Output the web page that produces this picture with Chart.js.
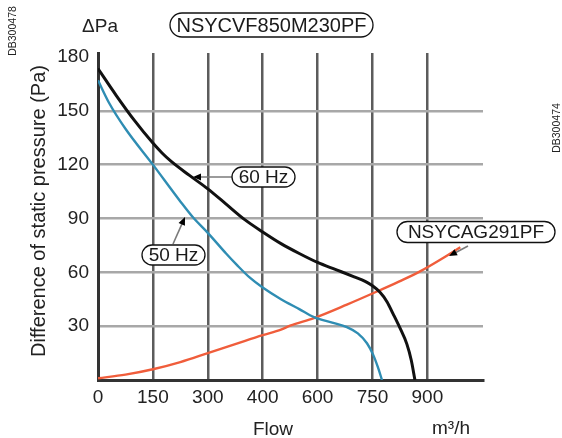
<!DOCTYPE html>
<html>
<head>
<meta charset="utf-8">
<script src="https://cdn.jsdelivr.net/npm/chart.js@4.4.0/dist/chart.umd.min.js"></script>
<style>
  html, body { margin: 0; padding: 0; background: #fff; }
</style>
</head>
<body>
<canvas id="chart" width="562" height="438"></canvas>
<script>
// fan curves, flow in m3/h, pressure in Pa
const flow60 = [0, 50, 100, 150, 175, 200, 250, 300, 350, 400, 450, 500, 550, 600, 650, 700, 730, 750, 770, 790, 806, 825, 844, 856, 866];
const pa60   = [173.5, 158.5, 144.5, 132, 126.5, 121.8, 114, 106.5, 98, 89.5, 82.5, 76, 70.5, 65.5, 61.5, 57.5, 55, 52.5, 49, 43.5, 37, 29, 20, 11, 0];

const flow50 = [0, 30, 75, 150, 225, 260, 300, 350, 380, 415, 450, 500, 550, 590, 640, 680, 710, 735, 752, 765, 776];
const pa50   = [167, 154.5, 140, 120, 99.5, 90.5, 82, 70.5, 64, 57, 51.5, 45, 39.5, 35, 32, 29.5, 26, 20.5, 14, 7, 0];

// NSYCAG291PF filter resistance curve
const flowCag = [0, 75, 150, 225, 300, 375, 450, 500, 525, 590, 680, 770, 830, 880, 935, 990];
const paCag   = [1, 3, 6, 10, 15, 20, 25, 28, 30.3, 34.5, 42, 50, 55.5, 60.5, 67, 74];

const xTickValues = [0, 150, 300, 450, 600, 750, 900];
const xTickLabels = ['0', '150', '300', '400', '600', '750', '900'];
const yTickValues = [30, 60, 90, 120, 150, 180];

const FONT = '"Liberation Sans", Arial, sans-serif';

const toPoints = (xs, ys) => xs.map((x, i) => ({ x: x, y: ys[i] }));

function pill(ctx, text, cx, cy, w, h, size) {
  const r = h / 2;
  ctx.save();
  ctx.beginPath();
  ctx.moveTo(cx - w / 2 + r, cy - r);
  ctx.lineTo(cx + w / 2 - r, cy - r);
  ctx.arc(cx + w / 2 - r, cy, r, -Math.PI / 2, Math.PI / 2);
  ctx.lineTo(cx - w / 2 + r, cy + r);
  ctx.arc(cx - w / 2 + r, cy, r, Math.PI / 2, Math.PI * 1.5);
  ctx.closePath();
  ctx.fillStyle = '#fff';
  ctx.fill();
  ctx.lineWidth = 1.3;
  ctx.strokeStyle = '#111';
  ctx.stroke();
  ctx.fillStyle = '#1a1a1a';
  ctx.font = size + 'px ' + FONT;
  ctx.textAlign = 'center';
  ctx.textBaseline = 'middle';
  ctx.fillText(text, cx, cy + 1);
  ctx.restore();
}

function arrow(ctx, x1, y1, x2, y2) {
  const a = Math.atan2(y2 - y1, x2 - x1);
  ctx.save();
  ctx.strokeStyle = '#7a7a7a';
  ctx.lineWidth = 1.6;
  ctx.beginPath();
  ctx.moveTo(x1, y1);
  ctx.lineTo(x2 - 5 * Math.cos(a), y2 - 5 * Math.sin(a));
  ctx.stroke();
  ctx.fillStyle = '#000';
  ctx.beginPath();
  ctx.moveTo(x2, y2);
  ctx.lineTo(x2 - 8 * Math.cos(a) + 3.5 * Math.sin(a), y2 - 8 * Math.sin(a) - 3.5 * Math.cos(a));
  ctx.lineTo(x2 - 8 * Math.cos(a) - 3.5 * Math.sin(a), y2 - 8 * Math.sin(a) + 3.5 * Math.cos(a));
  ctx.closePath();
  ctx.fill();
  ctx.restore();
}

const labelsPlugin = {
  id: 'labels',
  afterDraw(chart) {
    const ctx = chart.ctx;
    ctx.save();
    ctx.fillStyle = '#222';
    ctx.textAlign = 'center';
    ctx.textBaseline = 'middle';

    ctx.font = '19px ' + FONT;
    ctx.fillText('\u0394Pa', 100, 27);
    ctx.fillText('Flow', 273, 430);
    ctx.fillText('m\u00B3/h', 451, 429);

    ctx.save();
    ctx.translate(39, 211);
    ctx.rotate(-Math.PI / 2);
    ctx.font = '20px ' + FONT;
    ctx.fillText('Difference of static pressure (Pa)', 0, 0);
    ctx.restore();

    ctx.font = '10.5px ' + FONT;
    ctx.save();
    ctx.translate(13, 31);
    ctx.rotate(-Math.PI / 2);
    ctx.fillText('DB300478', 0, 0);
    ctx.restore();
    ctx.save();
    ctx.translate(557, 128);
    ctx.rotate(-Math.PI / 2);
    ctx.fillText('DB300474', 0, 0);
    ctx.restore();
    ctx.restore();

    arrow(ctx, 233, 177, 193, 177);
    arrow(ctx, 173, 244, 185, 217);
    arrow(ctx, 468, 246, 449, 256);

    pill(ctx, 'NSYCVF850M230PF', 271.5, 25, 203, 24, 20);
    pill(ctx, '60 Hz', 263.5, 177, 63, 20, 19);
    pill(ctx, '50 Hz', 173.5, 255, 63, 20, 19);
    pill(ctx, 'NSYCAG291PF', 476, 232, 158, 21, 19);
  }
};

new Chart(document.getElementById('chart'), {
  type: 'line',
  data: {
    datasets: [
      {
        label: '60 Hz',
        data: toPoints(flow60, pa60),
        borderColor: '#111',
        borderWidth: 3,
        pointRadius: 0,
        cubicInterpolationMode: 'monotone'
      },
      {
        label: '50 Hz',
        data: toPoints(flow50, pa50),
        borderColor: '#2f8db3',
        borderWidth: 2.4,
        pointRadius: 0,
        cubicInterpolationMode: 'monotone'
      },
      {
        label: 'NSYCAG291PF',
        data: toPoints(flowCag, paCag),
        borderColor: '#f05d3b',
        borderWidth: 2.4,
        pointRadius: 0,
        cubicInterpolationMode: 'monotone'
      }
    ]
  },
  options: {
    responsive: false,
    animation: false,
    layout: { padding: { top: 53, right: 79, left: 0, bottom: 0 } },
    plugins: { legend: { display: false }, tooltip: { enabled: false } },
    scales: {
      x: {
        type: 'linear',
        min: 0,
        max: 1052,
        afterBuildTicks: s => { s.ticks = xTickValues.map(v => ({ value: v })); },
        afterFit: s => { s.height = 58; },
        ticks: {
          callback: v => xTickLabels[xTickValues.indexOf(v)],
          color: '#222',
          font: { family: FONT, size: 19 },
          padding: 6,
          maxRotation: 0,
          autoSkip: false
        },
        grid: {
          color: c => (c.tick && c.tick.value === 0) ? 'rgba(0,0,0,0)' : '#5c5c5c',
          lineWidth: 2.5,
          drawTicks: false
        },
        border: { display: true, color: '#333', width: 3 }
      },
      y: {
        type: 'linear',
        min: 0,
        max: 182.2,
        afterBuildTicks: s => { s.ticks = yTickValues.map(v => ({ value: v })); },
        afterFit: s => { s.width = 98; },
        ticks: {
          color: '#222',
          font: { family: FONT, size: 19 },
          padding: 9
        },
        grid: {
          color: c => (c.tick && c.tick.value === 180) ? 'rgba(0,0,0,0)' : '#a8a8a8',
          lineWidth: 2.5,
          drawTicks: false
        },
        border: { display: true, color: '#333', width: 3 }
      }
    }
  },
  plugins: [labelsPlugin]
});
</script>
</body>
</html>
